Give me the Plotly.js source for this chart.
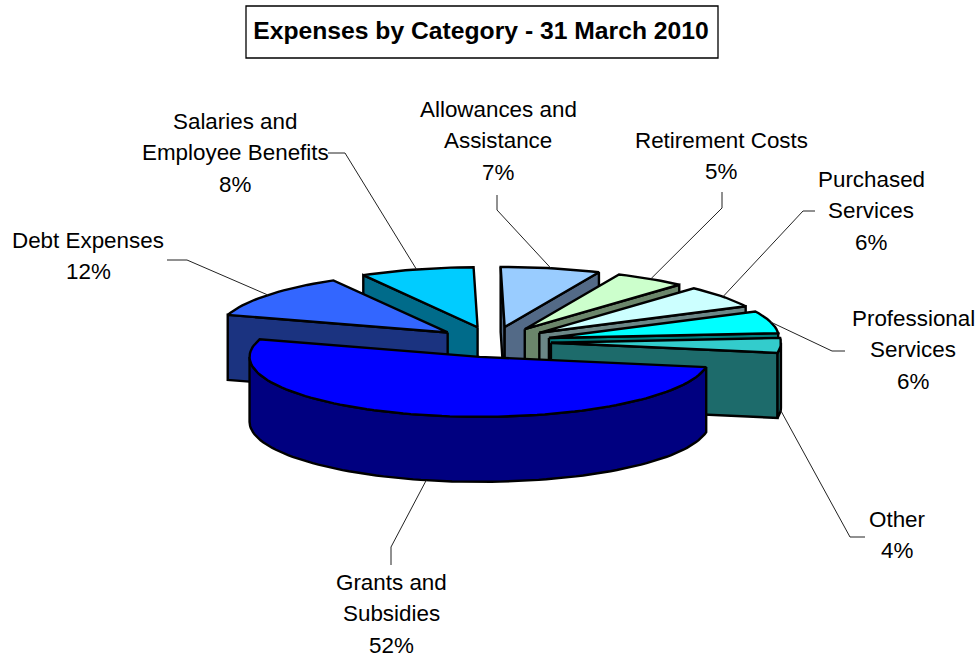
<!DOCTYPE html>
<html>
<head>
<meta charset="utf-8">
<script src="https://cdn.plot.ly/plotly-3.0.1.min.js"></script>
<style>html,body{margin:0;padding:0;background:#fff}#chart{width:980px;height:658px}</style>
</head>
<body>
<div id="chart"></div>
<script>
// ---- data ----
const categories = ["Allowances and Assistance","Retirement Costs","Purchased Services","Professional Services","Other","Grants and Subsidies","Debt Expenses","Salaries and Employee Benefits"];
const values = [7,5,6,6,4,52,12,8];
const labelLines = [["Allowances and","Assistance"],["Retirement Costs"],["Purchased","Services"],["Professional","Services"],["Other"],["Grants and","Subsidies"],["Debt Expenses"],["Salaries and","Employee Benefits"]];
const topColors = ["#99CCFF","#CCFFCC","#CCFFFF","#00FFFF","#33CCCC","#0000FF","#3366FF","#00CCFF"];
const wallColors = ["#536A87","#6B866B","#6B8787","#008080","#1D6B6B","#000080","#1B3380","#006B8A"];

// ---- layout constants of the tilted, exploded pie ----
const W = 980, H = 658;
const startAngle = -1, cx = 493, cy = 342, rx = 230, ry = 60, ex = 58, ey = 15.3, depth = 65;
const drawOrder = [7,0,1,2,3,4,6,5];
const labelCentres = [[498,109],[721,140],[871,179],[913,318],[897,519],[391,582],[88,240],[235,121]];
const lineGap = 31.5;
const leaderBends = [
  [[497,210],[497,195]],
  [[722,208],[722,192]],
  [[803,211],[815,211]],
  [[832,351],[845,351]],
  [[850,537],[865,537]],
  [[391,547],[391,565]],
  [[187,260],[167,260]],
  [[345,153],[328,153]]
];
// leader starts on the lower rim for slices whose label hangs below the pie
const leaderOnLowerRim = [false,false,false,false,true,true,false,false];

const rad = d => d * Math.PI / 180;
const total = values.reduce((a,b)=>a+b,0);
let acc = startAngle;
const slices = values.map((v,i)=>{
  const a = acc, b = acc + v/total*360; acc = b;
  const m = (a+b)/2;
  return {i,a,b,m,ax:cx+ex*Math.sin(rad(m)),ay:cy-ey*Math.cos(rad(m))};
});
const pt = (s,t,dz=0)=>[s.ax+rx*Math.sin(rad(t)), s.ay-ry*Math.cos(rad(t))+dz];
function arc(s,from,to,dz=0){
  const n = Math.max(2,Math.ceil(Math.abs(to-from)/2)), out=[];
  for(let k=0;k<=n;k++) out.push(pt(s,from+(to-from)*k/n,dz));
  return out;
}
function face(poly,color){
  const closed = poly.concat([poly[0]]);
  return {type:"scatter",mode:"lines",x:closed.map(p=>p[0]),y:closed.map(p=>p[1]),
    fill:"toself",fillcolor:color,line:{color:"#000",width:2.4,shape:"linear"},hoverinfo:"skip",showlegend:false};
}
const traces = [];
drawOrder.forEach(i=>{
  const s = slices[i], wall = wallColors[i];
  const apex=[s.ax,s.ay], apexLow=[s.ax,s.ay+depth];
  const sinA=Math.sin(rad(s.a)), sinB=Math.sin(rad(s.b));
  if(sinA<0){const e=pt(s,s.a); traces.push(face([apex,e,[e[0],e[1]+depth],apexLow],wall));}
  if(sinB>0){const e=pt(s,s.b); traces.push(face([apex,e,[e[0],e[1]+depth],apexLow],wall));}
  const f=Math.max(s.a,90), t=Math.min(s.b,270);
  if(t>f){traces.push(face(arc(s,f,t).concat(arc(s,t,f,depth)),wall));}
  traces.push(face([apex].concat(arc(s,s.a,s.b)),topColors[i]));
});
slices.forEach((s,i)=>{
  const st = pt(s,s.m,leaderOnLowerRim[i]?depth:0);
  const path=[st].concat(leaderBends[i]);
  traces.push({type:"scatter",mode:"lines",x:path.map(p=>p[0]),y:path.map(p=>p[1]),
    line:{color:"#222",width:1},hoverinfo:"skip",showlegend:false});
});
const annotations=[];
slices.forEach((s,i)=>{
  const lines = labelLines[i].concat([values[i]+"%"]);
  lines.forEach((txt,k)=>annotations.push({xref:"x",yref:"y",x:labelCentres[i][0],y:labelCentres[i][1]+k*lineGap,
    text:txt,showarrow:false,xanchor:"center",yanchor:"middle",font:{family:"Liberation Sans, Arial, sans-serif",size:22.4,color:"#000"}}));
});
const layout={
  width:W,height:H,margin:{l:0,r:0,t:0,b:0},paper_bgcolor:"#fff",plot_bgcolor:"#fff",showlegend:false,
  title:{text:"<b>Expenses by Category - 31 March 2010</b>",x:481/W,xanchor:"center",xref:"paper",y:1-30/H,yref:"paper",yanchor:"middle",
    font:{family:"Liberation Sans, Arial, sans-serif",size:24.7,color:"#000"}},
  xaxis:{range:[0,W],visible:false,fixedrange:true},
  yaxis:{range:[H,0],visible:false,fixedrange:true},
  shapes:[{type:"rect",xref:"x",yref:"y",x0:246,x1:718,y0:6,y1:58,line:{color:"#000",width:1.3}}],
  annotations
};
Plotly.newPlot("chart",traces,layout,{displayModeBar:false,staticPlot:true});
</script>
</body>
</html>
